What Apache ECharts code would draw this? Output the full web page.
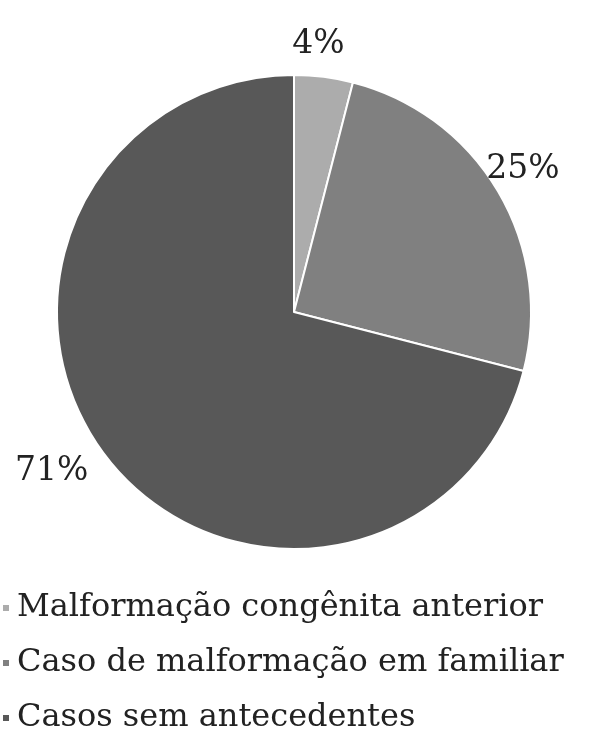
<!DOCTYPE html>
<html>
<head>
<meta charset="utf-8">
<script src="https://cdn.jsdelivr.net/npm/echarts@6/dist/echarts.min.js"></script>
<style>
  html, body { margin: 0; padding: 0; background: #fff; }
  #chart { width: 610px; height: 731px; }
</style>
</head>
<body>
<div id="chart"></div>
<script>
const categories = ['Malformação congênita anterior', 'Caso de malformação em familiar', 'Casos sem antecedentes'];
const percentages = [4, 25, 71];
const sliceColors = ['#acacac', '#808080', '#585858'];
// small nudges so the percent labels sit where the original put them
const labelShift = [[-38, -21], [-27, -16], [-4, 7]];

const FONT = 'DejaVu Serif';

const chart = echarts.init(document.getElementById('chart'));

chart.setOption({
    animation: false,
    color: sliceColors,
    legend: {
        orient: 'vertical',
        left: -4,
        top: 587,
        height: 200,
        itemWidth: 8,
        itemHeight: 8,
        itemGap: 23,
        icon: 'rect',
        textStyle: { fontFamily: FONT, fontSize: 32, color: '#222', padding: [0, 0, 0, 2] },
        data: categories
    },
    series: [{
        type: 'pie',
        center: [294, 312],
        radius: 237,
        startAngle: 90,
        clockwise: true,
        itemStyle: { borderColor: '#fff', borderWidth: 2 },
        label: {
            show: true,
            position: 'outside',
            formatter: '{c}%',
            fontFamily: FONT,
            fontSize: 33,
            color: '#222'
        },
        labelLine: { show: false, length: 12, length2: 0 },
        labelLayout: (p) => ({ dx: labelShift[p.dataIndex][0], dy: labelShift[p.dataIndex][1] }),
        data: categories.map((name, i) => ({ name, value: percentages[i] }))
    }]
});
</script>
</body>
</html>
